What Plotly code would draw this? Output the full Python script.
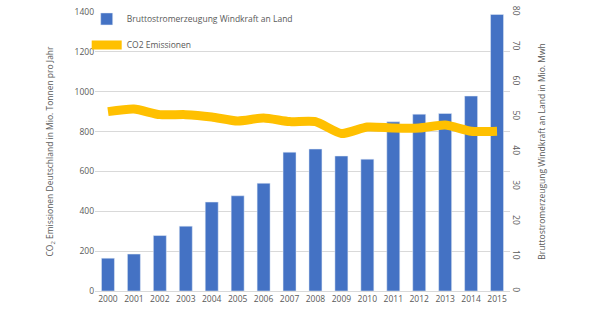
import plotly.graph_objects as go

years = [str(y) for y in range(2000, 2016)]
wind = [9.4, 10.6, 15.9, 18.6, 25.5, 27.3, 30.9, 39.8, 40.7, 38.7, 37.8, 48.5, 50.7, 50.9, 55.9, 79.3]
co2 = [900, 913, 885, 885, 873, 853, 868, 850, 850, 790, 823, 818, 818, 833, 802, 802]

font = dict(family="Open Sans", size=8.5, color="#595959")

fig = go.Figure()
fig.add_trace(go.Bar(
    x=years, y=wind, name="Bruttostromerzeugung Windkraft an Land",
    marker=dict(color="#4472C4"), yaxis="y", legendgroup="a",
))
fig.add_trace(go.Scatter(
    x=years, y=co2, name="CO2 Emissionen", mode="lines",
    line=dict(color="#FFC000", width=9, shape="spline", smoothing=0.6),
    yaxis="y2", legendgroup="b",
))

fig.update_layout(
    width=605, height=322,
    margin=dict(l=95, r=95, t=12, b=31, autoexpand=False),
    paper_bgcolor="white", plot_bgcolor="white",
    font=font,
    bargap=0.5,
    showlegend=True,
    legend=dict(x=-0.02, y=1.027, xanchor="left", yanchor="top",
                bgcolor="rgba(0,0,0,0)", traceorder="grouped",
                tracegroupgap=7, font=font, itemwidth=30),
    xaxis=dict(type="category", showgrid=False, showline=True,
               linecolor="#d9d9d9", ticks="", tickfont=font),
    yaxis=dict(range=[0, 80], dtick=10, side="right",
               showgrid=False, zeroline=False, ticks="", tickfont=font,
               tickangle=90,
               title=dict(text="Bruttostromerzeugung Windkraft an Land in Mio. Mwh",
                          font=font, standoff=18)),
    yaxis2=dict(range=[0, 1400], dtick=200, overlaying="y", side="left",
                showgrid=True, gridcolor="#d9d9d9",
                zeroline=False, ticks="", tickfont=font,
                title=dict(text="CO<sub>2</sub> Emissionen Deutschland in Mio. Tonnen pro Jahr",
                           font=font, standoff=19)),
)

fig.write_html("out.html")
